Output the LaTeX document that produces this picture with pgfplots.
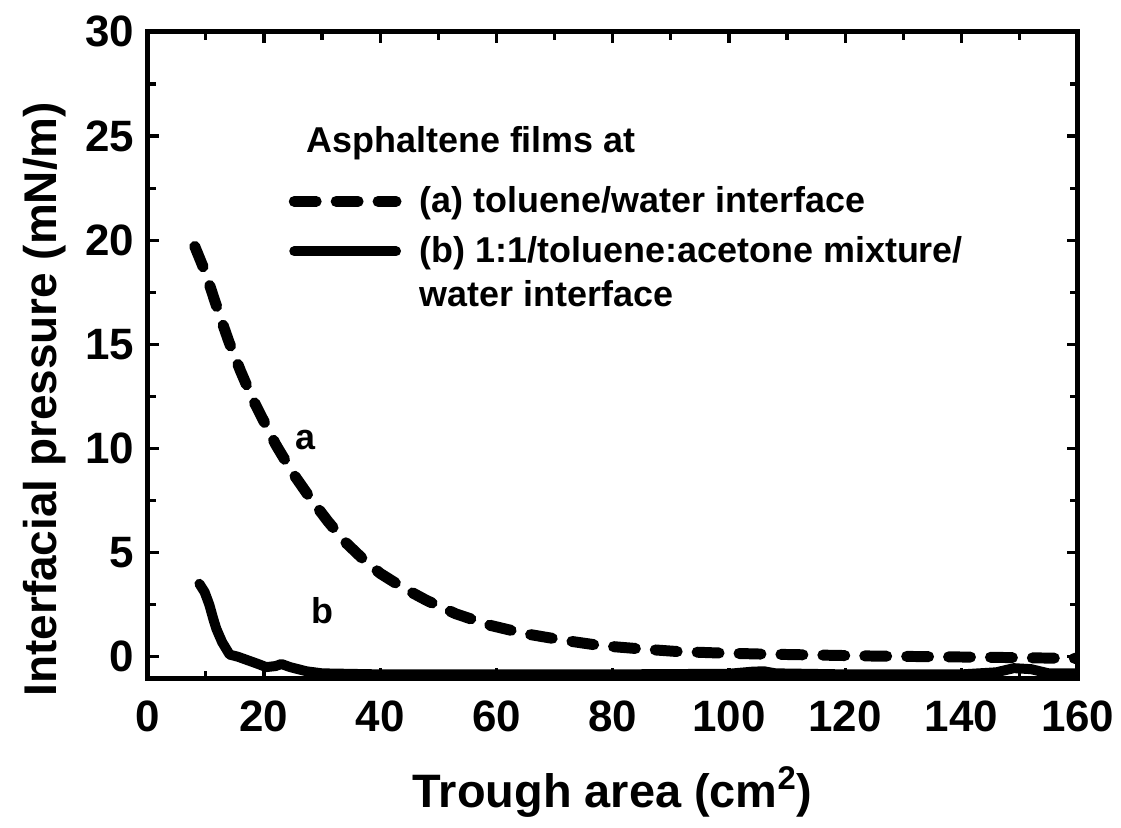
\documentclass[border=0pt]{standalone}
\usepackage{pgfplots}
\pgfplotsset{compat=1.18}
\usepackage{fontspec}
\setmainfont{Liberation Sans}
\pgfplotsset{bimg/.style={legend image code/.code={\path[draw=none,fill=none] (0pt,-11pt) rectangle (61pt,11pt); \draw[##1] (0pt,11pt) -- (51pt,11pt);}}}
\begin{document}
\begin{tikzpicture}
\begin{axis}[
  name=ax,
  scale only axis,
  width=466pt, height=324pt,
  xmin=0, xmax=160, ymin=-1.05, ymax=30,
  xtick={0,20,...,160}, ytick={0,5,...,30},
  minor xtick={10,30,...,150}, minor ytick={2.5,7.5,...,27.5},
  tick align=inside,
  major tick length=5.5pt, minor tick length=4pt,
  every tick/.style={line width=1.6pt, black},
  axis line style={line width=2.5pt},
  /pgf/number format/assume math mode=true,
  tick label style={font=\fontsize{22}{22}\selectfont\bfseries},
  xticklabel style={anchor=center, yshift=-19pt},
  yticklabel style={anchor=east, inner sep=0pt, xshift=-6.5pt},
  every axis x label/.style={at={(rel axis cs:0.5,0)}, anchor=center, yshift=-57pt, font=\fontsize{23.5}{23.5}\selectfont\bfseries},
  every axis y label/.style={at={(rel axis cs:0,0.432)}, rotate=90, anchor=center, yshift=51.5pt, font=\fontsize{23}{23}\selectfont\bfseries},
  xlabel={Trough area (cm\textsuperscript{2})},
  ylabel={Interfacial pressure (mN/m)},
  legend image code/.code={\path[draw=none,fill=none] (0pt,-1pt) rectangle (61pt,1pt); \draw[#1] (0pt,0pt) -- (51pt,0pt);},
  legend style={at={(axis cs:24.2,22.77)}, anchor=north west, draw=none, fill=none,
    font=\fontsize{18}{22}\selectfont\bfseries, cells={align=left},
    row sep=6.5pt, inner sep=0pt},
  legend cell align=left,
]
\addplot[black, line width=5.5pt, line cap=round, dash pattern=on 11pt off 10pt] coordinates {
(8.1,19.7) (10,18.4) (12,16.7) (14,15.1) (16,13.7) (18,12.4) (20,11.3) (22,10.2)
(25,8.8) (28,7.6) (31,6.5) (34,5.5) (37,4.7) (40,4.0) (44,3.3) (48,2.7) (53,2.06)
(59,1.5) (65,1.1) (72,0.77) (78,0.53) (85,0.37) (91,0.25) (98,0.18) (105,0.13)
(115,0.08) (125,0.03) (135,0.0) (145,-0.03) (153,-0.06) (160,-0.08)
};
\addlegendentry{(a) toluene/water interface}
\addplot[black, line width=5pt, line cap=round, line join=round, bimg] coordinates {
(8.9,3.5) (9.8,3.1) (10.6,2.5) (11.3,1.8) (11.8,1.35) (12.8,0.7) (14.1,0.1) (15.5,0)
(17,-0.15) (19,-0.35) (20.4,-0.5) (22,-0.45) (23,-0.35) (24.5,-0.5) (27.3,-0.7)
(30,-0.8) (40,-0.85) (60,-0.85) (80,-0.85) (100,-0.82) (104,-0.72) (106,-0.7)
(108,-0.8) (120,-0.85) (140,-0.85) (146,-0.75) (149,-0.55) (152,-0.6) (155,-0.8) (160,-0.8)
};
\addlegendentry{(b) 1:1/toluene:acetone mixture/\\water interface}
\node[anchor=west, font=\fontsize{18}{18}\selectfont\bfseries] at (axis cs:26.1,24.64) {Asphaltene films at};
\node[font=\fontsize{18}{18}\selectfont\bfseries] at (axis cs:27.1,10.4) {a};
\node[font=\fontsize{18}{18}\selectfont\bfseries] at (axis cs:30.0,2.2) {b};
\end{axis}
\path[use as bounding box] (ax.south west) ++(-74pt,-74.5pt) rectangle ++(560.5pt,414.5pt);
\end{tikzpicture}
\end{document}
